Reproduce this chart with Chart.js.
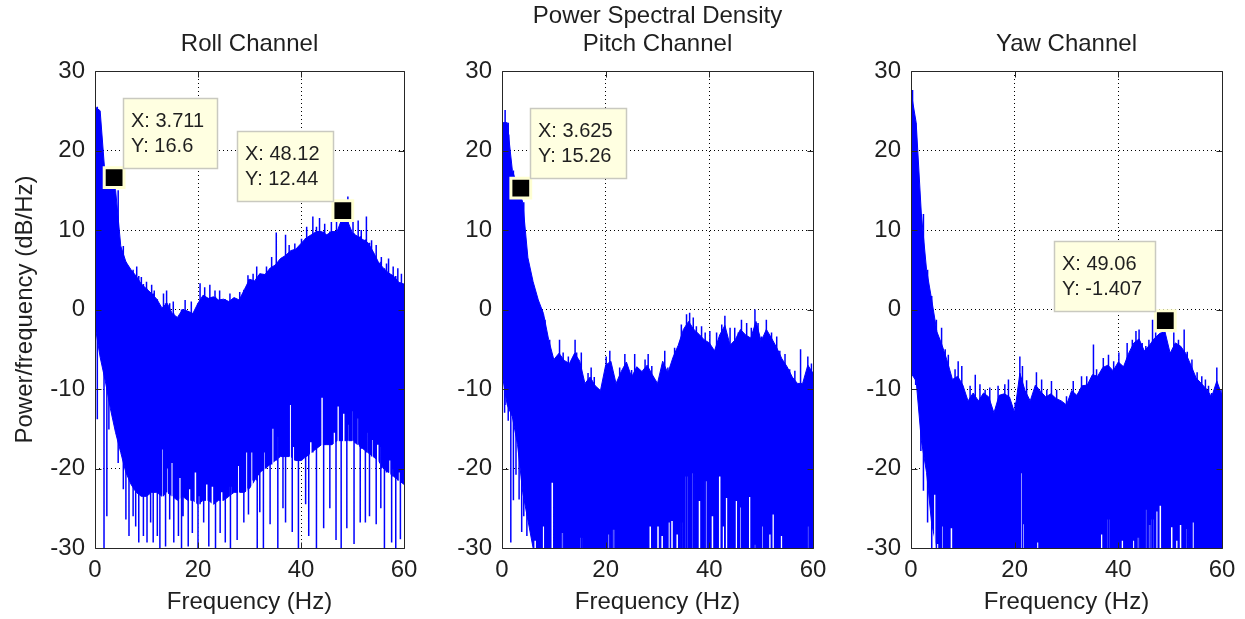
<!DOCTYPE html>
<html>
<head>
<meta charset="utf-8">
<title>Power Spectral Density</title>
<script src="https://cdn.jsdelivr.net/npm/chart.js@4.4.0/dist/chart.umd.min.js"></script>
<style>
  html, body { margin: 0; padding: 0; background: #fff; }
  #wrap { position: relative; width: 1245px; height: 619px; overflow: hidden; }
  canvas { position: absolute; top: 0; }
</style>
</head>
<body>
<div id="wrap">
  <canvas id="roll" width="430" height="619" style="left:0px"></canvas>
  <canvas id="pitch" width="420" height="619" style="left:420px"></canvas>
  <canvas id="yaw" width="405" height="619" style="left:840px"></canvas>
</div>
<script>
// Frequency grid (Hz) and tick labels
const freqs = [0, 1, 2, 3, 4, 5, 6, 7, 8, 9, 10, 11, 12, 13, 14, 15, 16, 17, 18, 19, 20,
  21, 22, 23, 24, 25, 26, 27, 28, 29, 30, 31, 32, 33, 34, 35, 36, 37, 38, 39, 40,
  41, 42, 43, 44, 45, 46, 47, 48, 49, 50, 51, 52, 53, 54, 55, 56, 57, 58, 59, 60];
const xTicks = [0, 20, 40, 60];
const yTicks = [-30, -20, -10, 0, 10, 20, 30];

// Roll channel (dB/Hz): body of the dense band, thin peaks on top, dips and notches at the bottom
const rollUpper = [25.5, 25, 16.5, 16.5, 15, 8, 6, 5, 4.2, 3.2, 2.6, 2, 1.3, 0.2, 0.8, -0.5, -1, 0, -0.2, -0.5,
  0.8, 1.8, 1.4, 1.6, 1.2, 1.3, 1, 1.5, 1.2, 2.5, 3.8, 3.6, 4.5, 4.4, 5.2, 5.6, 6.4, 6.8, 7.4, 7.6,
  8.3, 9, 9.4, 9.8, 9.8, 9.4, 9.8, 9.8, 11.5, 11.2, 9.6, 9.2, 8.8, 8.4, 7.3, 6, 5.2, 4.6, 4.2, 3.4, 3.2];
const rollLower = [-2, -6, -9, -12.5, -15.5, -18, -20.5, -22, -23, -23.5, -23.5, -23, -23, -23.5, -23, -23.5, -24, -23.5, -24, -24,
  -24.5, -24, -24, -24.5, -24, -24, -23.5, -23, -23, -23, -22.5, -21.5, -20.5, -20, -19.5, -19, -18.5, -18.5, -18.5, -19,
  -19, -18.5, -18, -17.5, -17, -17, -17, -16.5, -16.5, -16.5, -16.5, -17, -17.5, -18, -18.5, -19, -20, -20.5, -21, -21.5, -22];
const rollPeakFreq = [8.1, 9.0, 10.0, 11.0, 11.5, 13.3, 13.9, 15.2, 17.5, 18.7, 20.4, 21.3, 22.3, 23.3, 24.2, 26.2,
  28.1, 29.7, 30.7, 31.4, 33.3, 34.3, 35.2, 37.0, 37.7, 38.8, 40.1, 41.1, 42.3, 43.0, 43.6, 44.6, 45.9, 46.9,
  49.1, 50.1, 51.1, 51.7, 52.7, 53.7, 54.6, 55.6, 56.6, 57.0, 57.9, 58.8, 59.5];
const rollPeakTop = [5.4, 4.1, 3.5, 3.1, 2.4, 2.0, 2.4, 1.0, 1.2, 1.0, 3.3, 2.8, 3.1, 2.4, 2.4, 2.0,
  2.2, 4.3, 4.5, 5.4, 5.4, 6.6, 9.7, 9.4, 8.1, 8.3, 8.9, 10.4, 11.7, 10.4, 11.5, 10.8, 11.0, 11.7,
  14.2, 11.2, 11.2, 10.0, 11.7, 8.7, 8.1, 6.6, 5.8, 6.4, 5.4, 5.2, 4.5];
const rollDipFreq = [0.45, 1.75, 2.3, 2.7, 4.5, 5.5, 6.0, 6.6, 7.4, 7.9, 8.5, 9.4, 10.1, 10.8, 11.3, 12.1, 12.6, 13.7, 14.5, 15.3,
  16.2, 16.8, 17.1, 18.1, 18.9, 20.0, 21.1, 22.1, 23.4, 24.3, 25.3, 26.3, 27.6, 28.9, 29.8, 31.5, 32.0, 32.7, 34.0, 35.5,
  36.5, 37.0, 38.3, 39.5, 40.9, 41.5, 43.0, 44.4, 45.6, 46.8, 47.8, 48.9, 50.3, 51.5, 52.5, 53.3, 54.6, 55.5, 56.2, 57.6, 58.4, 59.3];
const rollDipBottom = [-13.8, -30, -26, -15.1, -19.3, -22.6, -26.4, -28.5, -26, -27.3, -29.3, -28.5, -29.3, -26.8, -29.3, -28.5, -30, -29.8, -26.4, -29.3,
  -28.5, -30, -26, -29.8, -28.1, -30, -26.8, -29.8, -30, -28.1, -29.3, -30, -29, -26.8, -25.8, -30, -25.5, -30, -27, -30,
  -25, -26.8, -28, -30, -24.5, -28.5, -30, -27.5, -25, -29, -30, -27.5, -29.5, -26.8, -26.8, -26, -27, -25, -30, -29.3, -30, -28.9];
const rollNotchFreq = [13.2, 14.0, 15.0, 16.5, 18.4, 19.5, 20.2, 21.7, 22.8, 24.6, 26.3, 27.1, 27.9, 29.0, 29.5, 30.5, 32.8, 34.5, 35.4,
  37.9, 38.6, 41.9, 44.1, 46.5, 47.2, 48.3, 49.1, 50.1, 51.1, 52.7, 53.8, 54.9, 55.5, 57.2, 57.8, 59.1];
const rollNotchTop = [-17.6, -20, -19.3, -21.2, -22.6, -20.5, -23.5, -22, -22.3, -23, -22.3, -23.5, -19.7, -23.8, -18, -18, -18, -15, -16,
  -12, -17.3, -16.7, -11.1, -15.5, -12.2, -13.1, -14.5, -12.8, -13.7, -15.5, -16.4, -17, -17.3, -19, -20.1, -20.5];
const rollTipX = [3.711, 48.12];
const rollTipY = [16.6, 12.44];
const rollTipSide = ["right", "left"];

// Pitch channel
const pitchUpper = [23.5, 23.5, 17.5, 15.5, 13.5, 6.5, 3.5, 1.2, -0.5, -3.8, -6.3, -5.5, -6.4, -6.8, -5.5, -6.5, -9.3, -8.5, -9.6, -10.2,
  -7, -6.5, -9.3, -7.8, -6.6, -8.5, -7.2, -7.8, -7, -8.2, -9.3, -6.5, -8, -6, -4.5, -2.5, -1.5, -2.5, -3.1, -3.8,
  -4.2, -5.2, -3.2, -2, -4.5, -3.8, -2.5, -3.2, -3.6, -1.5, -4, -2.5, -3.6, -4.8, -6.2, -7.2, -8.5, -9.3, -9.3, -7, -8];
const pitchLower = [-8, -12, -13.5, -17, -23, -26.5, -30, -30, -30, -30, -30, -30, -30, -30, -30, -30, -30, -30, -30, -30,
  -30, -30, -30, -30, -30, -30, -30, -30, -30, -30, -30, -30, -30, -30, -30, -30, -30, -30, -30, -30,
  -30, -30, -30, -30, -30, -30, -30, -30, -30, -30, -30, -30, -30, -30, -30, -30, -30, -30, -30, -30, -30];
const pitchPeakFreq = [0.6, 1.3, 7.7, 8.3, 9.2, 11.1, 11.8, 12.8, 14.1, 14.4, 15.3, 16.6, 17.2, 17.8, 20.1, 20.8, 21.4, 22.7,
  23.7, 25.0, 25.6, 26.3, 27.6, 28.2, 28.9, 30.5, 31.4, 32.0, 33.3, 34.3, 34.6, 35.6, 36.2, 36.9, 37.5, 38.5, 39.2,
  40.1, 41.4, 42.4, 43.0, 44.0, 44.9, 45.6, 46.2, 47.2, 48.1, 48.8, 49.4, 50.1, 51.0, 52.0, 53.0, 53.6, 54.6, 55.5,
  56.5, 57.6, 58.4, 59.0, 59.7];
const pitchPeakTop = [25.1, 22.0, 0.0, -1.3, -3.8, -3.8, -5.4, -5.9, -3.8, -5.4, -5.4, -8.0, -7.3, -8.5, -5.9, -5.2, -8.1, -7.3,
  -5.6, -7.6, -5.6, -7.6, -6.3, -5.6, -7.1, -8.8, -5.2, -7.3, -4.8, -4.0, -1.9, -0.6, -0.4, -1.0, -2.1, -2.1, -2.9,
  -2.7, -2.9, -1.9, -0.8, -2.3, -2.3, -2.9, -1.3, -1.7, -2.3, 0.0, -1.7, -3.4, -1.3, -2.9, -3.4, -5.2, -5.6, -7.5,
  -7.7, -5.0, -8.8, -5.9, -6.8];
const pitchDipFreq = [0.5, 1.2, 1.7, 2.2, 2.7, 3.3, 3.8, 4.2, 4.8];
const pitchDipBottom = [-13, -14, -29.3, -24, -20.8, -23.9, -28, -26, -28.5];
const pitchNotchFreq = [6.4, 8.0, 9.7, 11.7, 15.3, 20.7, 21.5, 28.6, 30.1, 30.9, 32.2, 32.8, 33.8, 34.6, 35.6, 36.9,
  38.1, 39.3, 40.6, 42.0, 42.7, 43.3, 45.2, 46.1, 47.8, 48.8, 50.2, 51.7, 52.3, 53.9, 59.0];
const pitchNotchTop = [-29.1, -27.3, -21.8, -28.1, -28.7, -28.3, -27.7, -27.3, -27.3, -28.5, -26.8, -26.6, -28.3, -26.8, -21.0, -20.6,
  -24.1, -21.6, -26.0, -21.0, -27.3, -23.7, -24.1, -24.9, -23.6, -29.6, -27.3, -28.3, -25.8, -28.5, -27.3];
const pitchTipX = [3.625];
const pitchTipY = [15.26];
const pitchTipSide = ["right"];

// Yaw channel
const yawUpper = [27.4, 23.5, 12, 5, 1.2, -2.8, -4.5, -6.5, -8.8, -8.4, -9.5, -11.5, -10.5, -11.5, -10.5, -11, -13, -10.8, -10.6, -11,
  -13, -8, -10.2, -11.5, -9.5, -10.3, -11, -10.6, -11.2, -11.5, -12, -10.2, -10.8, -9.6, -9.5, -8.2, -8.4, -7.3, -7, -7.7,
  -6.6, -7.2, -5.5, -4.2, -3.7, -5.2, -4.5, -3.6, -3, -2.8, -5.5, -4.2, -4.6, -5.5, -7, -8.6, -9.3, -10, -11, -9, -10.8];
const yawLower = [-8, -9, -16.5, -20.5, -27, -30, -30, -30, -30, -30, -30, -30, -30, -30, -30, -30, -30, -30, -30, -30,
  -30, -30, -30, -30, -30, -30, -30, -30, -30, -30, -30, -30, -30, -30, -30, -30, -30, -30, -30, -30,
  -30, -30, -30, -30, -30, -30, -30, -30, -30, -30, -30, -30, -30, -30, -30, -30, -30, -30, -30, -30, -30];
const yawPeakFreq = [0.3, 4.0, 4.9, 5.9, 6.6, 7.2, 8.5, 9.1, 9.8, 11.4, 12.4, 13.3, 14.3, 15.2, 16.8, 18.1, 18.8, 20.1,
  21.0, 21.5, 22.3, 23.3, 24.2, 25.2, 26.2, 27.1, 28.1, 29.4, 30.0, 31.3, 32.3, 32.9, 33.9, 35.2, 35.8, 37.1, 38.1,
  39.1, 40.1, 41.1, 41.7, 42.7, 43.4, 44.0, 44.6, 45.3, 45.9, 46.6, 47.2, 50.0, 50.7, 51.6, 52.7, 53.3, 54.2, 55.2,
  56.1, 56.8, 57.4, 58.0, 59.0, 60.0];
const yawPeakTop = [27.6, 1.7, -1.3, -2.3, -5.0, -5.7, -7.5, -6.5, -7.1, -9.6, -8.2, -9.4, -10.1, -9.8, -9.6, -9.4, -8.8, -11.7,
  -5.9, -7.1, -8.9, -11.3, -7.9, -8.8, -10.1, -9.0, -10.1, -12.2, -10.9, -9.0, -10.5, -8.4, -8.4, -4.4, -7.5, -6.1, -5.7,
  -6.5, -5.4, -7.1, -4.2, -3.8, -2.7, -2.5, -4.2, -4.6, -3.8, -1.3, -2.9, -5.7, -2.9, -3.8, -2.5, -5.3, -6.3, -7.9,
  -8.4, -8.8, -9.6, -10.5, -7.3, -10.1];
const yawDipFreq = [0.9, 1.9, 2.4, 3.2, 4.0];
const yawDipBottom = [-9.5, -17.8, -22.8, -26.8, -30];
const yawNotchFreq = [4.6, 5.1, 6.0, 7.8, 21.4, 21.6, 24.4, 36.8, 38.1, 40.8, 42.9, 43.9, 45.3, 46.0, 46.6, 47.4,
  48.1, 50.3, 51.3, 52.0, 53.3, 54.4];
const yawNotchTop = [-23.3, -29.5, -27.3, -27.5, -20.6, -27, -29.3, -28.3, -26.4, -29.1, -29.1, -28.7, -25.2, -27.1, -26.4, -25.4,
  -24.7, -27.4, -29.1, -27.1, -27.6, -26.8];
const yawTipX = [49.06];
const yawTipY = [-1.407];
const yawTipSide = ["left"];

const BLUE = "#0000ff";
const INK = "#1f1f1f";
const FONT = "'Liberation Sans', Arial, Helvetica, sans-serif";

Chart.defaults.font.family = FONT;
Chart.defaults.font.size = 24;
Chart.defaults.color = INK;

// index of the grid frequency closest to f
function nearest(f) {
    return freqs.reduce((best, g, i) => (Math.abs(g - f) < Math.abs(freqs[best] - f) ? i : best), 0);
}

// vertical strokes: one per frequency, from start value to end value, broken by nulls
function strokes(fs, ends, starts) {
    const pts = [];
    fs.forEach((f, i) => {
        pts.push({ x: f, y: ends[i] }, { x: f, y: starts[i] }, { x: f, y: null });
    });
    return pts;
}

// box around the axes with inward ticks, like the original figure
const frame = {
    id: "frame",
    afterDatasetsDraw(chart) {
        const { ctx, chartArea: a, scales: { x, y } } = chart;
        const l = Math.round(a.left) + 0.5, r = Math.round(a.right) + 0.5;
        const t = Math.round(a.top) + 0.5, b = Math.round(a.bottom) + 0.5;
        ctx.save();
        ctx.strokeStyle = "#262626";
        ctx.lineWidth = 1;
        ctx.beginPath();
        ctx.rect(l, t, r - l, b - t);
        xTicks.forEach((v) => {
            const p = Math.round(x.getPixelForValue(v)) + 0.5;
            ctx.moveTo(p, b); ctx.lineTo(p, b - 6);
            ctx.moveTo(p, t); ctx.lineTo(p, t + 6);
        });
        yTicks.forEach((v) => {
            const p = Math.round(y.getPixelForValue(v)) + 0.5;
            ctx.moveTo(l, p); ctx.lineTo(l + 6, p);
            ctx.moveTo(r, p); ctx.lineTo(r - 6, p);
        });
        ctx.stroke();
        ctx.restore();
    },
};

// MATLAB style data tip boxes next to the marked points
const dataTips = {
    id: "dataTips",
    afterDatasetsDraw(chart, args, opts) {
        const { ctx, scales: { x, y } } = chart;
        ctx.save();
        ctx.font = "20px " + FONT;
        opts.xs.forEach((xv, i) => {
            const px = x.getPixelForValue(xv);
            const py = y.getPixelForValue(opts.ys[i]);
            const lines = ["X: " + xv, "Y: " + opts.ys[i]];
            const w = Math.round(Math.max(...lines.map((s) => ctx.measureText(s).width)) + 21);
            const h = 70;
            const left = Math.round(opts.sides[i] === "right" ? px + 9 : px - 10 - w);
            const top = Math.round(py - 10 - h);
            ctx.fillStyle = "#ffffe1";
            ctx.fillRect(left, top, w, h);
            ctx.strokeStyle = "#c9c9c0";
            ctx.lineWidth = 1.5;
            ctx.strokeRect(left + 0.5, top + 0.5, w, h);
            ctx.fillStyle = INK;
            ctx.textAlign = "left";
            ctx.textBaseline = "middle";
            ctx.fillText(lines[0], left + 8, top + 23);
            ctx.fillText(lines[1], left + 8, top + 48);
        });
        ctx.restore();
    },
};

function gridColor(ctx) {
    const v = ctx.tick ? ctx.tick.value : null;
    return v === null || v === ctx.scale.min || v === ctx.scale.max ? "rgba(0,0,0,0)" : "#000";
}

function makePanel(id, p) {
    const peakStart = p.peakFreq.map((f) => p.lower[nearest(f)]);
    const dipStart = p.dipFreq.map((f) => p.upper[nearest(f)]);
    const notchStart = p.notchFreq.map(() => yTicks[0]);

    new Chart(document.getElementById(id), {
        type: "line",
        data: {
            datasets: [
                {
                    data: freqs.map((f, i) => ({ x: f, y: p.upper[i] })),
                    borderColor: BLUE, backgroundColor: BLUE, borderWidth: 1,
                    pointRadius: 0, fill: "+1", order: 4,
                },
                {
                    data: freqs.map((f, i) => ({ x: f, y: p.lower[i] })),
                    borderColor: BLUE, borderWidth: 1, pointRadius: 0, fill: false, order: 3,
                },
                {
                    data: strokes(p.notchFreq, p.notchTop, notchStart),
                    borderColor: "#ffffff", borderWidth: 1.5, pointRadius: 0, fill: false, order: 2,
                },
                {
                    data: strokes(p.peakFreq.concat(p.dipFreq), p.peakTop.concat(p.dipBottom), peakStart.concat(dipStart)),
                    borderColor: BLUE, borderWidth: 1.5, pointRadius: 0, fill: false, order: 1,
                },
                {
                    data: p.tipX.map((v, i) => ({ x: v, y: p.tipY[i] })),
                    showLine: false, pointStyle: "rect", pointRadius: 14,
                    pointBackgroundColor: "#000", pointBorderColor: "#ffffd2", pointBorderWidth: 3, order: 0,
                },
            ],
        },
        options: {
            responsive: false,
            devicePixelRatio: 1,
            animation: false,
            events: [],
            layout: { padding: { left: 0, top: 0, bottom: 0, right: p.padRight } },
            plugins: {
                legend: { display: false },
                tooltip: { enabled: false },
                title: {
                    display: true, text: p.title, fullSize: false, color: INK,
                    font: { size: 24, weight: "normal" },
                    padding: { top: p.titleTop, bottom: p.titleBottom },
                },
                dataTips: { xs: p.tipX, ys: p.tipY, sides: p.tipSide },
            },
            scales: {
                x: {
                    type: "linear", min: 0, max: 60,
                    afterBuildTicks: (s) => { s.ticks = xTicks.map((v) => ({ value: v })); },
                    afterFit: (s) => { s.height = 71; },
                    grid: { color: gridColor, drawTicks: false, lineWidth: 1 },
                    border: { display: false, dash: [1, 3] },
                    ticks: { padding: 8, maxRotation: 0, color: INK },
                    title: { display: true, text: "Frequency (Hz)", color: INK, padding: { top: 0, bottom: 2.6 } },
                },
                y: {
                    type: "linear", min: -30, max: 30,
                    afterBuildTicks: (s) => { s.ticks = yTicks.map((v) => ({ value: v })); },
                    afterFit: (s) => { s.width = p.yWidth; },
                    grid: { color: gridColor, drawTicks: false, lineWidth: 1 },
                    border: { display: false, dash: [1, 3] },
                    ticks: { padding: 10, color: INK },
                    title: { display: p.yTitle, text: "Power/frequency (dB/Hz)", color: INK, padding: { top: 10.6, bottom: 0 } },
                },
            },
        },
        plugins: [frame, dataTips],
    });
}

makePanel("roll", {
    title: "Roll Channel", titleTop: 29.6, titleBottom: 12.6, yWidth: 95, padRight: 26, yTitle: true,
    upper: rollUpper, lower: rollLower,
    peakFreq: rollPeakFreq, peakTop: rollPeakTop,
    dipFreq: rollDipFreq, dipBottom: rollDipBottom,
    notchFreq: rollNotchFreq, notchTop: rollNotchTop,
    tipX: rollTipX, tipY: rollTipY, tipSide: rollTipSide,
});

makePanel("pitch", {
    title: ["Power Spectral Density", "Pitch Channel"], titleTop: 1.6, titleBottom: 11.8, yWidth: 82, padRight: 27, yTitle: false,
    upper: pitchUpper, lower: pitchLower,
    peakFreq: pitchPeakFreq, peakTop: pitchPeakTop,
    dipFreq: pitchDipFreq, dipBottom: pitchDipBottom,
    notchFreq: pitchNotchFreq, notchTop: pitchNotchTop,
    tipX: pitchTipX, tipY: pitchTipY, tipSide: pitchTipSide,
});

makePanel("yaw", {
    title: "Yaw Channel", titleTop: 29.6, titleBottom: 12.6, yWidth: 71, padRight: 23, yTitle: false,
    upper: yawUpper, lower: yawLower,
    peakFreq: yawPeakFreq, peakTop: yawPeakTop,
    dipFreq: yawDipFreq, dipBottom: yawDipBottom,
    notchFreq: yawNotchFreq, notchTop: yawNotchTop,
    tipX: yawTipX, tipY: yawTipY, tipSide: yawTipSide,
});
</script>
</body>
</html>
